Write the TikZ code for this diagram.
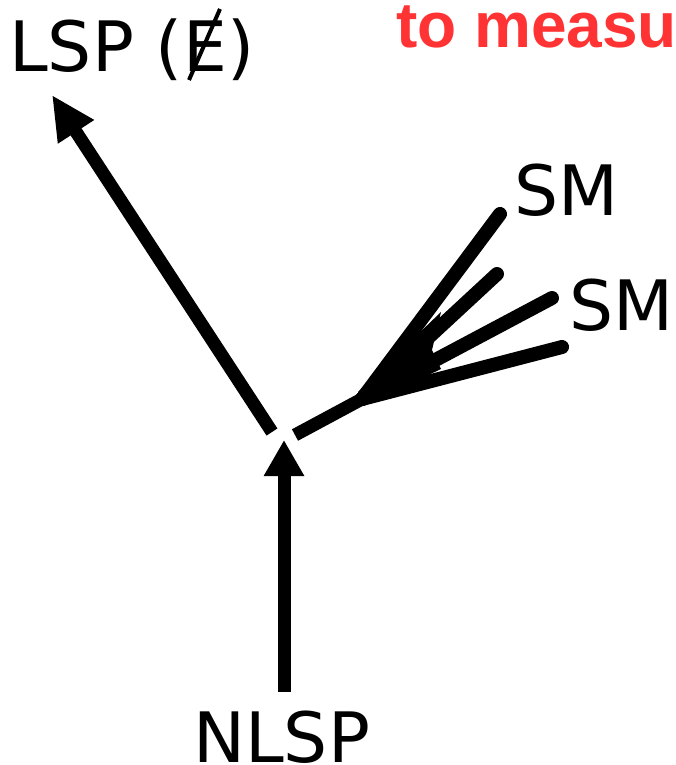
\documentclass[tikz,border=0pt]{standalone}
\usepackage{fontspec}
\setmainfont{DejaVu Sans}
\newfontfamily\redfont{Liberation Sans}
\usetikzlibrary{arrows.meta}
\begin{document}
\begin{tikzpicture}[x=1pt,y=-1pt,
  lbl/.style={font=\fontsize{69.5}{80}\selectfont, inner sep=0pt, anchor=base west},
  leg/.style={line width=13pt},
  branch/.style={line width=14pt, line cap=round}]
\useasboundingbox (0,0) rectangle (675,765);
\clip (0,0) rectangle (675,765);

% labels
\node[lbl] (nlsp) at (193,762) {NLSP};
\node[lbl] (lsp) at (9,72) {LSP (E)};
\node[lbl] (sm1) at (514,215) {SM};
\node[lbl] (sm2) at (569,330) {SM};
\node[inner sep=0pt, anchor=base west, text={rgb,255:red,255;green,51;blue,51},
      font=\redfont\bfseries\fontsize{64}{72}\selectfont] (note) at (396,48) {to measu};

% slash through the E
\draw[line width=4pt] (220,9) -- (189,80);

% vertex and arm ends
\coordinate (v) at (284,440);
\coordinate (nlspTail) at (284,692);
\coordinate (lspFrom) at (272,432);
\coordinate (lspTip) at (52,95);
\coordinate (smFrom) at (295,435);
\coordinate (jet) at (362,399);
\coordinate (b1) at (500,214);
\coordinate (b2) at (497,274);
\coordinate (b3) at (552,298);
\coordinate (b4) at (562,347);

% incoming and outgoing arrows
\draw[leg, -{Triangle[length=36pt,width=38pt]}] (nlspTail) -- (v);
\draw[leg, -{Triangle[length=44pt,width=40pt]}] (lspFrom) -- (lspTip);

% SM jet: trunk, fan and branches
\draw[leg] (smFrom) -- (jet);
\fill (358,392) -- (441,312) -- (432,350) -- (441,369) -- (366,405) -- cycle;
\draw[branch] (jet) -- (b1);
\draw[branch] (jet) -- (b2);
\draw[branch] (jet) -- (b3);
\draw[branch] (jet) -- (b4);
\end{tikzpicture}
\end{document}
